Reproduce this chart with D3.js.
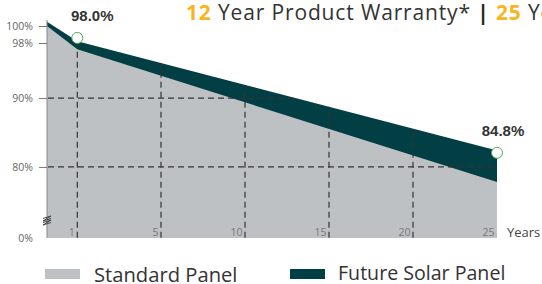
<!DOCTYPE html>
<html>
<head>
<meta charset="utf-8">
<script src="https://cdn.jsdelivr.net/npm/d3@7"></script>
<style>
body { margin: 0; background: #fff; }
svg { display: block; }
</style>
</head>
<body>
<svg id="chart" width="542" height="284"></svg>
<script>
// chart data
var years = [0, 1, 25];
var standardPanel = [100, 97.1, 77.8];
var futurePanel = [100.5, 98.2, 82.4];
var markerYears = [1, 25];
var markerValues = [98.6, 82.05];
var markerLabels = ["98.0%", "84.8%"];
var xTicks = [1, 5, 10, 15, 20, 25];
var yTicks = [0, 80, 90, 98, 100];
var gridY = [80, 90];
var legendNames = ["Standard Panel", "Future Solar Panel"];

var grey = "#bec1c4", teal = "#023f44", orange = "#f9b51e";

var svg = d3.select("#chart");

// x axis is not linear: 0-1 and 1-5 are stretched
var x = d3.scaleLinear().domain([0, 1, 5, 25]).range([47, 77.3, 161, 497]);
// broken y axis
var y = d3.scaleLinear().domain([0, 72, 98, 100]).range([238, 222, 43, 26]);

var area = function(vals) {
  return d3.area()
    .x(function(d, i) { return x(years[i]); })
    .y0(y(0))
    .y1(function(d) { return d; })
    (vals.map(function(v) { return y(v); }));
};

// title
var title = svg.append("text")
  .attr("x", 186)
  .attr("y", 20)
  .attr("font-family", "Open Sans")
  .attr("font-size", "21px")
  .attr("letter-spacing", "0.85px")
  .attr("fill", "#333");
title.append("tspan").attr("fill", orange).attr("font-weight", "bold").text("12");
title.append("tspan").text(" Year Product Warranty* ");
title.append("tspan").attr("font-weight", "bold").attr("fill", "#222").text("|");
title.append("tspan").attr("fill", orange).attr("font-weight", "bold").text(" 25");
title.append("tspan").text(" Year Performance Warranty");

svg.append("defs").append("clipPath").attr("id", "clipFuture")
  .append("path").attr("d", area(futurePanel));

svg.append("path").attr("d", area(futurePanel)).attr("fill", teal);
svg.append("path").attr("d", area(standardPanel)).attr("fill", grey);

// dashed grid, kept inside the coloured area
var grid = svg.append("g").attr("clip-path", "url(#clipFuture)")
  .attr("stroke", "#333").attr("stroke-width", 1.2).attr("stroke-dasharray", "6,4");
grid.selectAll(".vline").data(xTicks.slice(0, -1)).enter().append("line")
  .attr("x1", function(d) { return x(d); })
  .attr("x2", function(d) { return x(d); })
  .attr("y1", y(100.5))
  .attr("y2", y(0));
grid.selectAll(".hline").data(gridY).enter().append("line")
  .attr("x1", x(0) + 1)
  .attr("x2", x(25))
  .attr("y1", function(d) { return y(d); })
  .attr("y2", function(d) { return y(d); });

// y axis
var yAxis = svg.append("g")
  .attr("transform", "translate(" + x(0) + ",0)")
  .call(d3.axisLeft(y).tickValues(yTicks).tickSize(8).tickSizeOuter(0).tickPadding(6)
    .tickFormat(function(d) { return d + "%"; }));
yAxis.select(".domain").attr("stroke", "#888").attr("d", "M0," + y(100.7) + "V" + y(0));
yAxis.selectAll(".tick line").attr("stroke", "#777")
  .filter(function(d) { return d === 0; }).remove();
yAxis.selectAll(".tick text")
  .attr("font-family", "Open Sans").attr("font-size", "10.5px").attr("fill", "#666");

// axis break mark
svg.append("path")
  .attr("d", "M43,218.5 l8,-2.5 l-8,5 l8,-2.5 M43,222.5 l8,-2.5 l-8,5 l8,-2.5")
  .attr("fill", "none").attr("stroke", "#444").attr("stroke-width", 1);

// x axis, labels sit inside the plot
var xAxis = svg.append("g")
  .attr("transform", "translate(0," + y(0) + ")")
  .call(d3.axisBottom(x).tickValues(xTicks).tickSize(0));
xAxis.select(".domain").remove();
xAxis.selectAll(".tick text")
  .attr("y", -2).attr("dy", 0).attr("x", -3).attr("text-anchor", "end")
  .attr("font-family", "Open Sans").attr("font-size", "10.5px").attr("fill", "#777");
svg.append("text")
  .attr("x", 507).attr("y", 236.5)
  .attr("font-family", "Open Sans").attr("font-size", "13px").attr("fill", "#444")
  .text("Years");

// markers
svg.selectAll(".marker").data(markerValues).enter().append("circle")
  .attr("cx", function(d, i) { return x(markerYears[i]); })
  .attr("cy", function(d) { return y(d); })
  .attr("r", 5.5)
  .attr("fill", "#fff").attr("stroke", "#4fae57").attr("stroke-width", 1);
var labelDx = [15, 6];
svg.selectAll(".mlabel").data(markerLabels).enter().append("text")
  .attr("x", function(d, i) { return x(markerYears[i]) + labelDx[i]; })
  .attr("y", function(d, i) { return y(markerValues[i]) - 17; })
  .attr("text-anchor", "middle")
  .attr("font-family", "Liberation Sans").attr("font-weight", "bold")
  .attr("font-size", "15px").attr("fill", "#333")
  .text(function(d) { return d; });

// legend
var legendX = [45, 290];
var legendSize = ["20.2px", "19.6px"];
var legend = svg.selectAll(".legend").data(legendNames).enter().append("g")
  .attr("transform", function(d, i) { return "translate(" + legendX[i] + ",269)"; });
legend.append("rect").attr("width", 35).attr("height", 10)
  .attr("fill", function(d, i) { return i === 0 ? grey : teal; });
legend.append("text")
  .attr("x", function(d, i) { return i === 0 ? 49 : 48; })
  .attr("y", function(d, i) { return i === 0 ? 12.5 : 10.5; })
  .attr("font-family", "Open Sans").attr("fill", "#333")
  .attr("font-size", function(d, i) { return legendSize[i]; })
  .text(function(d) { return d; });
</script>
</body>
</html>
